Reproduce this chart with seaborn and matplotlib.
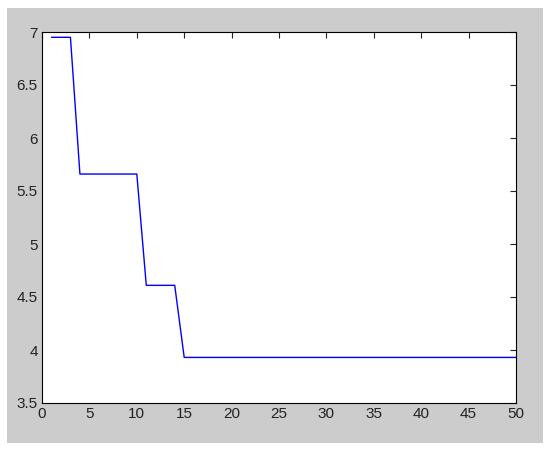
import numpy as np
import pandas as pd
import matplotlib
matplotlib.use('Agg')
import matplotlib.pyplot as plt
import seaborn as sns
from matplotlib.patches import Rectangle

# 迭代次数与目标值
iterations = list(range(1, 51))
values = [6.95, 6.95, 6.95,
          5.66, 5.66, 5.66, 5.66, 5.66, 5.66, 5.66,
          4.61, 4.61, 4.61, 4.61,
          3.93, 3.93, 3.93, 3.93, 3.93, 3.93, 3.93, 3.93, 3.93, 3.93,
          3.93, 3.93, 3.93, 3.93, 3.93, 3.93, 3.93, 3.93, 3.93, 3.93,
          3.93, 3.93, 3.93, 3.93, 3.93, 3.93, 3.93, 3.93, 3.93, 3.93,
          3.93, 3.93, 3.93, 3.93, 3.93, 3.93]
x_ticks = [0, 5, 10, 15, 20, 25, 30, 35, 40, 45, 50]
y_ticks = [3.5, 4, 4.5, 5, 5.5, 6, 6.5, 7]

df = pd.DataFrame({'iter': iterations, 'value': values})

sns.set_style('white')
plt.rcParams['font.family'] = ['Liberation Sans', 'DejaVu Sans']

W, H = 550, 451
fig = plt.figure(figsize=(W / 100, H / 100), dpi=100, facecolor='white')

# MATLAB 风格灰色底板
fig.patches.append(Rectangle((7 / W, 1 - 443 / H), (543 - 7) / W, (443 - 8) / H,
                             transform=fig.transFigure, facecolor='#cccccc',
                             edgecolor='none', zorder=-1))

ax = fig.add_axes([42 / W, 1 - 403 / H, (516 - 42) / W, (403 - 32) / H])
ax.set_facecolor('white')

sns.lineplot(data=df, x='iter', y='value', ax=ax, color='#0000ff', linewidth=1)

ax.set_xlim(0, 50)
ax.set_ylim(3.5, 7)
ax.set_xticks(x_ticks)
ax.set_yticks(y_ticks)
ax.set_xticklabels([str(t) for t in x_ticks])
ax.set_yticklabels(['3.5', '4', '4.5', '5', '5.5', '6', '6.5', '7'])
ax.set_xlabel('')
ax.set_ylabel('')

ax.tick_params(direction='in', top=True, right=True, length=4, width=0.8,
               labelsize=11, colors='#222222', pad=3)
for s in ax.spines.values():
    s.set_color('black')
    s.set_linewidth(0.8)

plt.savefig('out.png', dpi=100)
